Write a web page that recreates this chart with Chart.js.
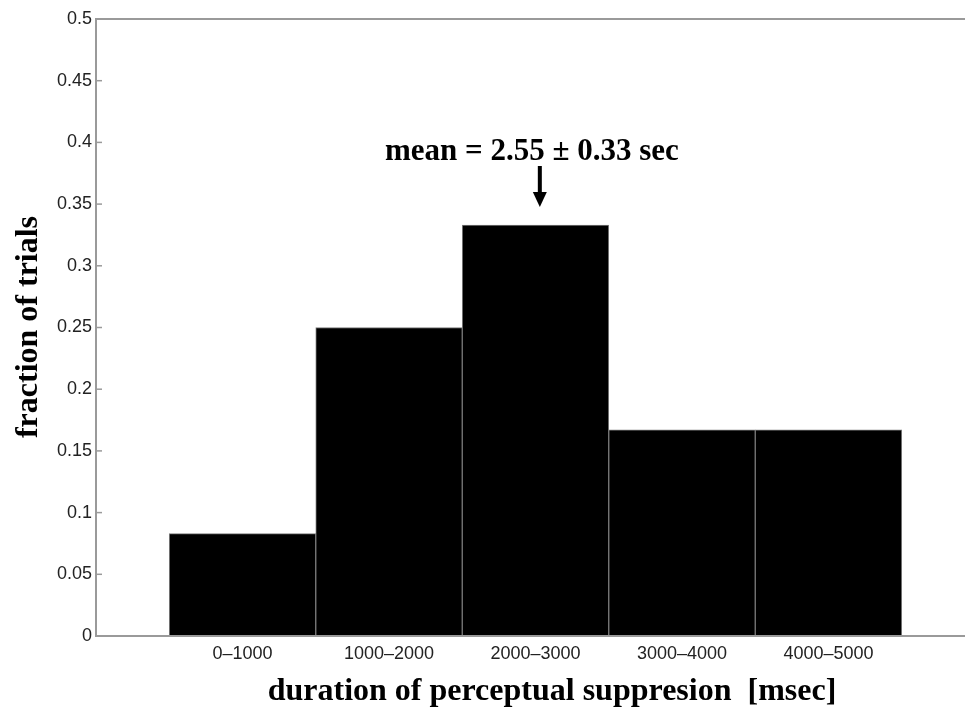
<!DOCTYPE html>
<html>
<head>
<meta charset="utf-8">
<script src="https://cdn.jsdelivr.net/npm/chart.js@4.4.1/dist/chart.umd.min.js"></script>
<style>
    html, body { margin: 0; padding: 0; background: #fff; overflow: hidden; }
    canvas { display: block; }
</style>
</head>
<body>
<canvas id="histChart" width="990" height="708"></canvas>
<script>
// bins of suppression duration (msec)
const categories = ['0\u20131000', '1000\u20132000', '2000\u20133000', '3000\u20134000', '4000\u20135000'];
const fractions = [0.083, 0.25, 0.333, 0.167, 0.167];
const yTickLabels = ['0', '0.05', '0.1', '0.15', '0.2', '0.25', '0.3', '0.35', '0.4', '0.45', '0.5'];
const meanSec = 2.55;
const meanText = 'mean = 2.55 \u00b1 0.33 sec';
const xTitle = 'duration of perceptual suppresion  [msec]';
const yTitle = 'fraction of trials';

const serif = "'Liberation Serif', 'DejaVu Serif', serif";
const tickFont = "'Liberation Sans', 'DejaVu Sans', sans-serif";

const barData = categories.map((c, i) => ({ x: i + 1, y: fractions[i] }));

// frame, inward ticks, titles and the mean arrow
const decorations = {
    id: 'decorations',
    afterDraw(chart) {
        const ctx = chart.ctx;
        const area = chart.chartArea;
        const xs = chart.scales.x;
        const ys = chart.scales.y;
        ctx.save();

        ctx.strokeStyle = '#9a9a9a';
        ctx.lineWidth = 2;
        ctx.strokeRect(area.left, area.top, area.right - area.left, area.bottom - area.top);

        ctx.lineWidth = 1.5;
        ys.ticks.forEach(t => {
            const y = ys.getPixelForValue(t.value);
            ctx.beginPath();
            ctx.moveTo(area.left, y);
            ctx.lineTo(area.left + 6, y);
            ctx.stroke();
        });

        ctx.fillStyle = '#000';
        ctx.font = 'bold 32px ' + serif;
        ctx.textAlign = 'center';
        ctx.textBaseline = 'alphabetic';
        ctx.fillText(xTitle, 552, 700);

        ctx.save();
        ctx.translate(37, 327);
        ctx.rotate(-Math.PI / 2);
        ctx.fillText(yTitle, 0, 0);
        ctx.restore();

        // mean arrow, bin k covers (k-1)..k sec and is centred at k
        const ax = xs.getPixelForValue(meanSec + 0.5) - 3;
        ctx.font = 'bold 31px ' + serif;
        ctx.fillText(meanText, ax - 8, 160);

        ctx.fillRect(ax - 2, 166, 4, 28);
        ctx.beginPath();
        ctx.moveTo(ax - 7, 192);
        ctx.lineTo(ax + 7, 192);
        ctx.lineTo(ax, 207);
        ctx.closePath();
        ctx.fill();

        ctx.restore();
    }
};

new Chart(document.getElementById('histChart'), {
    type: 'bar',
    data: {
        datasets: [{
            data: barData,
            backgroundColor: '#000',
            borderColor: '#7a7a7a',
            borderWidth: 1,
            barPercentage: 1,
            categoryPercentage: 1
        }]
    },
    options: {
        responsive: false,
        animation: false,
        layout: { padding: { top: 19, right: 15, left: 0, bottom: 0 } },
        plugins: {
            legend: { display: false },
            tooltip: { enabled: false }
        },
        scales: {
            x: {
                type: 'linear',
                min: 0,
                max: 6,
                offset: false,
                grid: { display: false, drawTicks: false },
                border: { display: false },
                afterFit(scale) { scale.height = 72; },
                ticks: {
                    stepSize: 1,
                    autoSkip: false,
                    maxRotation: 0,
                    padding: 7,
                    color: '#222',
                    font: { family: tickFont, size: 18 },
                    callback: v => categories[v - 1] || ''
                }
            },
            y: {
                min: 0,
                max: 0.5,
                grid: { display: false, drawTicks: false },
                border: { display: false },
                afterFit(scale) { scale.width = 96; },
                ticks: {
                    stepSize: 0.05,
                    padding: 4,
                    color: '#222',
                    font: { family: tickFont, size: 18 },
                    callback: (v, i) => yTickLabels[i]
                }
            }
        }
    },
    plugins: [decorations]
});
</script>
</body>
</html>
